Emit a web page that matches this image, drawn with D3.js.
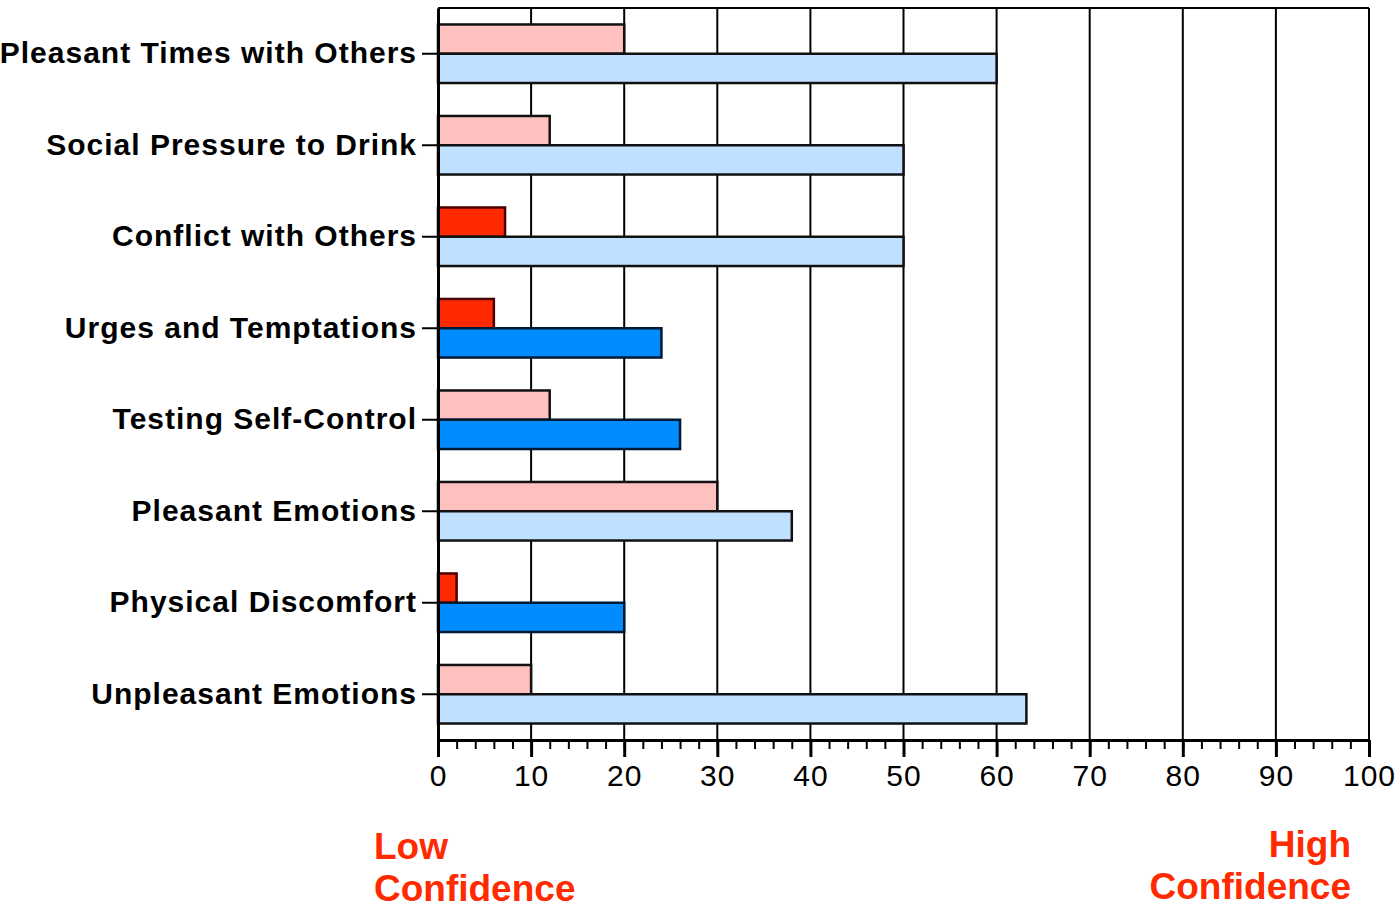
<!DOCTYPE html>
<html>
<head>
<meta charset="utf-8">
<script src="https://cdn.jsdelivr.net/npm/d3@7"></script>
<style>
  html, body { margin: 0; padding: 0; background: #fff; overflow: hidden; }
  svg { display: block; }
  svg text { font-family: "Liberation Sans", Arial, Helvetica, sans-serif; }
</style>
</head>
<body>
<svg id="chart" width="1399" height="904"></svg>
<script>
const categories = [
    "Pleasant Times with Others", "Social Pressure to Drink", "Conflict with Others",
    "Urges and Temptations", "Testing Self-Control", "Pleasant Emotions",
    "Physical Discomfort", "Unpleasant Emotions"
];
const redValues = [20, 12, 7.2, 6, 12, 30, 2, 10];
const blueValues = [60, 50, 50, 24, 26, 38, 20, 63.2];
// which bars are drawn in the strong colour
const redStrong = [false, false, true, true, false, false, true, false];
const blueStrong = [false, false, false, true, true, false, true, false];
const xTicks = [0, 10, 20, 30, 40, 50, 60, 70, 80, 90, 100];
const minorTicks = d3.range(0, 101, 2);

const svg = d3.select("#chart");
const margin = { top: 8, left: 438 };
const innerWidth = 1369 - margin.left;
const innerHeight = 740 - margin.top;

const g = svg.append("g").attr("transform", `translate(${margin.left},${margin.top})`);

const x = d3.scaleLinear().domain([0, 100]).range([0, innerWidth]);
const y = d3.scaleBand().domain(categories).range([0, innerHeight]);
const barH = y.bandwidth() * 0.32;

// vertical grid lines
g.selectAll(".grid").data(xTicks.slice(1)).enter().append("line")
    .attr("x1", d => x(d)).attr("x2", d => x(d))
    .attr("y1", 0).attr("y2", innerHeight)
    .attr("stroke", "#000").attr("stroke-width", 2);

// top border
g.append("line").attr("x1", 0).attr("x2", innerWidth).attr("y1", 0).attr("y2", 0)
    .attr("stroke", "#000").attr("stroke-width", 2);

const rows = categories.map((c, i) => ({
    label: c, red: redValues[i], blue: blueValues[i],
    redStrong: redStrong[i], blueStrong: blueStrong[i]
}));

g.selectAll(".red").data(rows).enter().append("rect")
    .attr("x", 0)
    .attr("y", d => y(d.label) + y.bandwidth() / 2 - barH)
    .attr("width", d => x(d.red))
    .attr("height", barH)
    .attr("fill", d => d.redStrong ? "#ff2a00" : "#ffc0c0")
    .attr("stroke", d => d.redStrong ? "#4a0000" : "#111")
    .attr("stroke-width", 2.5);

g.selectAll(".blue").data(rows).enter().append("rect")
    .attr("x", 0)
    .attr("y", d => y(d.label) + y.bandwidth() / 2)
    .attr("width", d => x(d.blue))
    .attr("height", barH)
    .attr("fill", d => d.blueStrong ? "#008cff" : "#c0e0ff")
    .attr("stroke", d => d.blueStrong ? "#001a33" : "#111")
    .attr("stroke-width", 2.5);

// y axis
const yAxis = d3.axisLeft(y).tickSize(16).tickSizeOuter(0).tickPadding(5);
const yg = g.append("g").call(yAxis);
yg.select(".domain").attr("stroke-width", 3);
yg.selectAll(".tick line").attr("stroke-width", 2);
yg.selectAll(".tick text")
    .attr("font-size", 30).attr("font-weight", "bold").attr("fill", "#000")
    .attr("letter-spacing", 1)
    .attr("font-family", "Liberation Sans, Arial, sans-serif");

// x axis: minor ticks then major ticks
const xg = g.append("g").attr("transform", `translate(0,${innerHeight})`);
xg.call(d3.axisBottom(x).tickValues(minorTicks).tickSize(9).tickSizeOuter(0).tickFormat(""))
    .select(".domain").attr("stroke-width", 3);
xg.selectAll(".tick text").remove();
xg.selectAll(".tick line").attr("stroke-width", 2);
const xgMajor = g.append("g").attr("transform", `translate(0,${innerHeight})`);
xgMajor.call(d3.axisBottom(x).tickValues(xTicks).tickSize(17).tickPadding(8))
    .select(".domain").remove();
xgMajor.selectAll(".tick line").attr("stroke-width", 3);
xgMajor.selectAll(".tick text")
    .attr("font-size", 30).attr("fill", "#000")
    .attr("letter-spacing", 1)
    .attr("font-family", "Liberation Sans, Arial, sans-serif");

// confidence labels
const lowLab = svg.append("text").attr("x", 374).attr("y", 859)
    .attr("fill", "#ff2a00").attr("font-size", 37).attr("font-weight", "bold");
lowLab.append("tspan").attr("x", 374).text("Low");
lowLab.append("tspan").attr("x", 374).attr("dy", 42).text("Confidence");

const highLab = svg.append("text").attr("y", 857).attr("text-anchor", "end")
    .attr("fill", "#ff2a00").attr("font-size", 37).attr("font-weight", "bold");
highLab.append("tspan").attr("x", 1351).text("High");
highLab.append("tspan").attr("x", 1351).attr("dy", 42).text("Confidence");
</script>
</body>
</html>
